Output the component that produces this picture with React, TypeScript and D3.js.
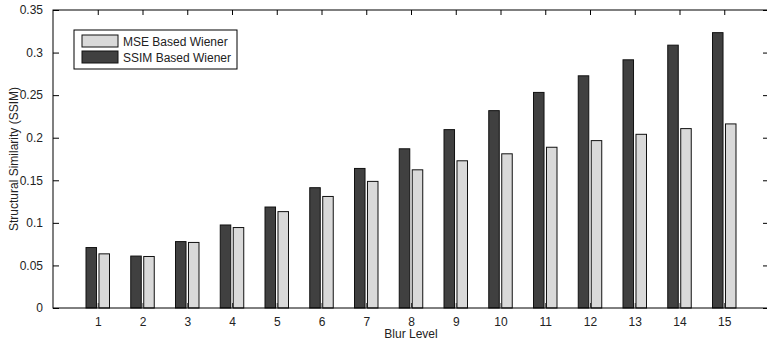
import * as d3 from 'd3'
import { useEffect, useRef } from 'react'

const levels = [1, 2, 3, 4, 5, 6, 7, 8, 9, 10, 11, 12, 13, 14, 15]
const ssimWiener = [0.071, 0.061, 0.078, 0.0975, 0.1186, 0.1413, 0.1639, 0.187, 0.2095, 0.2318, 0.2532, 0.2727, 0.2915, 0.3087, 0.3234]
const mseWiener = [0.0636, 0.0605, 0.077, 0.0945, 0.1132, 0.131, 0.1487, 0.1623, 0.1729, 0.1811, 0.1888, 0.1966, 0.204, 0.2107, 0.2162]
const yTicks = [0, 0.05, 0.1, 0.15, 0.2, 0.25, 0.3, 0.35]
const legendLabels = ['MSE Based Wiener', 'SSIM Based Wiener']

const App = () => {
  const ref = useRef<HTMLDivElement>(null)

  useEffect(() => {
    if (!ref.current) return
    const W = 767
    const H = 346
    const left = 53
    const right = 769
    const top = 10
    const bottom = 308
    const font = '"Liberation Sans", Arial, Helvetica, sans-serif'
    const dark = '#404040'
    const light = '#d9d9d9'

    d3.select(ref.current).select('svg').remove()
    const svg = d3
      .select(ref.current)
      .append('svg')
      .attr('width', W)
      .attr('height', H)
      .style('position', 'absolute')
      .style('left', '0px')
      .style('top', '0px')
      .style('background', '#fff')
      .style('font-family', font)

    const x = d3.scaleLinear().domain([0, 16]).range([left, right])
    const y = d3.scaleLinear().domain([0, 0.35]).range([bottom, top])

    const unit = x(1) - x(0)
    const barW = 0.235 * unit
    const off = 0.145 * unit

    // bars
    const series = [
      { vals: ssimWiener, fill: dark, dx: -off },
      { vals: mseWiener, fill: light, dx: off },
    ]
    series.forEach((s) => {
      svg
        .append('g')
        .selectAll('rect')
        .data(levels)
        .enter()
        .append('rect')
        .attr('x', (d) => x(d) + s.dx - barW / 2)
        .attr('width', barW)
        .attr('y', (d, i) => y(s.vals[i]))
        .attr('height', (d, i) => y(0) - y(s.vals[i]))
        .attr('fill', s.fill)
        .attr('stroke', '#111')
        .attr('stroke-width', 1)
    })

    // axes frame
    svg
      .append('rect')
      .attr('x', left)
      .attr('y', top)
      .attr('width', right - left)
      .attr('height', bottom - top)
      .attr('fill', 'none')
      .attr('stroke', '#000')
      .attr('stroke-width', 1)

    // x ticks (bottom + top, inward)
    svg
      .append('g')
      .attr('transform', `translate(0,${bottom})`)
      .call(d3.axisBottom(x).tickValues(levels).tickSizeInner(-5).tickSizeOuter(0).tickPadding(9).tickFormat((d) => `${d}`))
      .call((g) => g.select('.domain').remove())
      .call((g) => g.selectAll('.tick line').attr('stroke', '#333'))
      .selectAll('text')
      .style('font-size', '12px')
      .style('font-family', font)
      .attr('fill', '#222')

    svg
      .append('g')
      .attr('transform', `translate(0,${top})`)
      .call(d3.axisTop(x).tickValues(levels).tickSizeInner(-5).tickSizeOuter(0).tickFormat(() => ''))
      .call((g) => g.select('.domain').remove())

    // y ticks (left + right, inward)
    svg
      .append('g')
      .attr('transform', `translate(${left},0)`)
      .call(d3.axisLeft(y).tickValues(yTicks).tickSizeInner(-6).tickSizeOuter(0).tickPadding(10).tickFormat((d) => `${d}`))
      .call((g) => g.select('.domain').remove())
      .selectAll('text')
      .style('font-size', '12px')
      .style('font-family', font)
      .attr('fill', '#222')

    svg
      .append('g')
      .attr('transform', `translate(${right},0)`)
      .call(d3.axisRight(y).tickValues(yTicks).tickSizeInner(-6).tickSizeOuter(0).tickFormat(() => ''))
      .call((g) => g.select('.domain').remove())

    // axis labels
    svg
      .append('text')
      .attr('x', (left + right) / 2)
      .attr('y', 338)
      .attr('text-anchor', 'middle')
      .style('font-size', '12px')
      .attr('fill', '#222')
      .text('Blur Level')

    svg
      .append('text')
      .attr('transform', `translate(18,${(top + bottom) / 2}) rotate(-90)`)
      .attr('text-anchor', 'middle')
      .style('font-size', '12px')
      .attr('fill', '#222')
      .text('Structural Similarity (SSIM)')

    // legend
    const lg = svg.append('g').attr('transform', 'translate(74,30)')
    lg.append('rect')
      .attr('width', 163)
      .attr('height', 39)
      .attr('fill', '#fff')
      .attr('stroke', '#000')
      .attr('stroke-width', 1)
    const fills = [light, dark]
    legendLabels.forEach((lab, i) => {
      lg.append('rect')
        .attr('x', 8)
        .attr('y', 5 + i * 16)
        .attr('width', 36)
        .attr('height', 12)
        .attr('fill', fills[i])
        .attr('stroke', '#111')
      lg.append('text')
        .attr('x', 49)
        .attr('y', 15.5 + i * 16)
        .style('font-size', '12px')
        .attr('fill', '#222')
        .text(lab)
    })
  }, [])

  return (
    <div>
      <div ref={ref} />
    </div>
  )
}

export default App
